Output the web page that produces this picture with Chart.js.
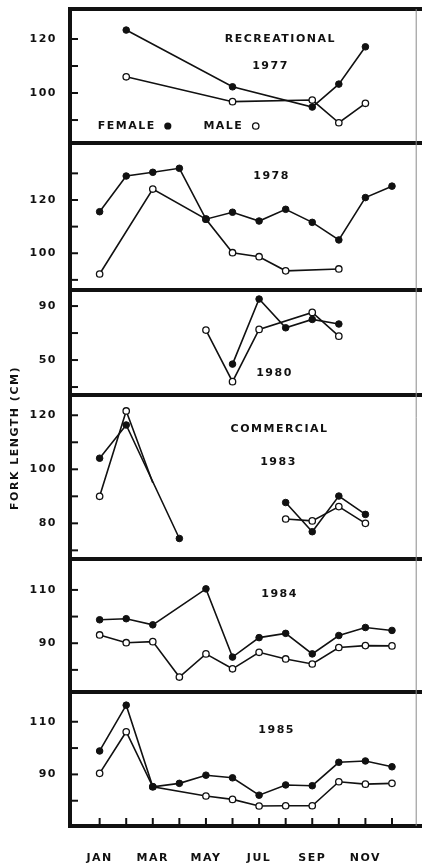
<!DOCTYPE html>
<html>
<head>
<meta charset="utf-8">
<script src="https://cdn.jsdelivr.net/npm/chart.js@4.4.1/dist/chart.umd.min.js"></script>
<style>
  html, body { margin:0; padding:0; background:#fff; }
  #wrap { position:relative; width:422px; height:867px; }
</style>
</head>
<body>
<div id="wrap"><canvas id="fork_chart" width="422" height="867"></canvas></div>
<script>
// months on the shared x axis
const months = ['JAN','FEB','MAR','APR','MAY','JUN','JUL','AUG','SEP','OCT','NOV','DEC'];

// fork length (cm), one value per month, null = no sample
const female1977 = [null,123.3,null,null,null,102.3,null,null,94.8,103.3,117.1,null];
const male1977   = [null,106.0,null,null,null,96.8,null,null,97.4,89.0,96.2,null];

const female1978 = [115.6,129.0,130.4,131.9,112.8,115.4,112.1,116.5,111.6,105.0,120.9,125.2];
const male1978   = [92.2,null,124.1,null,112.8,100.2,98.7,93.4,null,94.1,null,null];

const female1980 = [null,null,null,null,null,47.0,95.2,73.9,80.1,76.7,null,null];
const male1980   = [null,null,null,null,72.2,34.0,72.7,null,85.3,67.7,null,null];

const female1983 = [104.1,116.4,null,74.4,null,null,null,87.7,76.9,90.1,83.3,null];
const male1983   = [90.0,121.6,95.0,null,null,null,null,81.6,80.9,86.2,80.0,null];

const female1984 = [98.8,99.2,96.9,null,110.4,84.8,92.1,93.7,86.0,92.9,95.9,94.8];
const male1984   = [93.1,90.2,90.6,77.3,86.0,80.4,86.6,84.1,82.2,88.4,89.1,89.0];

const female1985 = [98.9,116.3,85.3,86.6,89.7,88.7,82.1,86.0,85.7,94.6,95.1,92.9];
const male1985   = [90.4,106.2,85.3,null,81.8,80.5,78.0,78.1,78.1,87.2,86.3,86.6];

const femaleSeries = [female1977, female1978, female1980, female1983, female1984, female1985];
const maleSeries   = [male1977, male1978, male1980, male1983, male1984, male1985];

// y axis of each panel
const yRanges     = [[81.5,131.1],[86.2,141.4],[24.1,101.9],[66.8,127.5],[71.7,121.6],[70.4,121.3]];
const yTickMarks  = [[90,100,110,120],[90,100,110,120,130],[30,50,70,90],[70,80,90,100,110,120],[80,90,100,110],[80,90,100,110]];
const yTickLabels = [[100,120],[100,120],[50,90],[80,100,120],[90,110],[90,110]];

// panel heights in px (top to bottom)
const panelHeights = [134,147,105,164,133,134];

const FONT = 'bold 11px "DejaVu Sans"';
const INK = '#111';

function toPoints(arr) {
    let pts = [];
    arr.forEach(function(v, i){
        if (v !== null) pts.push({x:i+1, y:v});
    });
    return pts;
}

// in-panel texts, placed in data units of each panel
const notes = [
    {panel:0, text:'RECREATIONAL', x:7.80, y:120},
    {panel:0, text:'1977', x:7.43, y:110},
    {panel:1, text:'1978', x:7.47, y:129},
    {panel:2, text:'1980', x:7.58, y:40},
    {panel:3, text:'COMMERCIAL', x:7.77, y:115},
    {panel:3, text:'1983', x:7.73, y:102.7},
    {panel:4, text:'1984', x:7.77, y:108.5},
    {panel:5, text:'1985', x:7.66, y:106.9}
];

let datasets = [];
femaleSeries.forEach(function(arr, k){
    datasets.push({
        label:'Female', data:toPoints(arr), yAxisID:'y'+k,
        borderColor:INK, borderWidth:1.6, backgroundColor:INK,
        pointRadius:3.3, pointBorderWidth:1, pointBackgroundColor:INK, pointBorderColor:INK,
        spanGaps: k === 3 ? 3 : true
    });
});
maleSeries.forEach(function(arr, k){
    datasets.push({
        label:'Male', data:toPoints(arr), yAxisID:'y'+k,
        borderColor:INK, borderWidth:1.6, backgroundColor:'#fff',
        pointRadius: function(c){ return (k === 3 && c.raw && c.raw.x === 3) ? 0 : 3.2; },
        pointBorderWidth:1.3, pointBackgroundColor:'#fff', pointBorderColor:INK,
        spanGaps: k === 3 ? 3 : true
    });
});

function noPad(s) {
    s.paddingTop = 0; s.paddingBottom = 0; s.paddingLeft = 0; s.paddingRight = 0;
}

let scales = {
    x: {
        type:'linear', position:'bottom', min:-0.115, max:12.93,
        grid:{display:false}, border:{display:false},
        afterBuildTicks: function(s){ s.ticks = months.map(function(m, i){ return {value:i+1}; }); },
        afterFit: function(s){ s.height = 41; noPad(s); },
        ticks:{
            autoSkip:false, maxRotation:0, padding:18, color:INK,
            font:{family:'DejaVu Sans', size:11, weight:'bold'},
            callback: function(v){ return (v % 2 === 1) ? months[v-1] : ''; }
        }
    }
};
yRanges.forEach(function(r, k){
    scales['y'+k] = {
        type:'linear', position:'left', stack:'panels', stackWeight:panelHeights[k], weight:6-k,
        min:r[0], max:r[1],
        grid:{display:false}, border:{display:false},
        afterBuildTicks: function(s){ s.ticks = yTickMarks[k].map(function(v){ return {value:v}; }); },
        afterFit: function(s){ s.width = 70; noPad(s); },
        ticks:{
            autoSkip:false, padding:5, color:INK,
            font:{family:'DejaVu Sans', size:11, weight:'bold'},
            callback: function(v){ return yTickLabels[k].includes(v) ? String(v) : ''; }
        }
    };
});

const spacing = {
    id:'spacing',
    beforeDraw: function(chart){ chart.ctx.letterSpacing = '1.5px'; }
};

const panelFrames = {
    id:'panelFrames',
    afterDatasetsDraw: function(chart){
        const ctx = chart.ctx, area = chart.chartArea;
        ctx.save();
        ctx.strokeStyle = INK;
        ctx.fillStyle = INK;

        // inward y ticks and panel separators
        yRanges.forEach(function(r, k){
            const s = chart.scales['y'+k];
            ctx.lineWidth = 2;
            s.ticks.forEach(function(t){
                const y = s.getPixelForValue(t.value);
                ctx.beginPath(); ctx.moveTo(area.left, y); ctx.lineTo(area.left + 8, y); ctx.stroke();
            });
            ctx.lineWidth = 4;
            ctx.beginPath(); ctx.moveTo(area.left - 2, s.top); ctx.lineTo(chart.width, s.top); ctx.stroke();
        });
        ctx.lineWidth = 4;
        ctx.beginPath(); ctx.moveTo(area.left - 2, area.bottom); ctx.lineTo(chart.width, area.bottom); ctx.stroke();
        ctx.beginPath(); ctx.moveTo(area.left, area.top - 2); ctx.lineTo(area.left, area.bottom + 2); ctx.stroke();

        // inward month ticks
        const xs = chart.scales.x;
        ctx.lineWidth = 2;
        months.forEach(function(m, i){
            const x = xs.getPixelForValue(i+1);
            ctx.beginPath(); ctx.moveTo(x, area.bottom); ctx.lineTo(x, area.bottom - 8); ctx.stroke();
        });

        // thin right edge
        ctx.strokeStyle = '#8a8a8a';
        ctx.lineWidth = 1;
        ctx.beginPath(); ctx.moveTo(area.right - 0.5, area.top); ctx.lineTo(area.right - 0.5, area.bottom); ctx.stroke();

        // panel texts
        ctx.font = FONT;
        ctx.letterSpacing = '1.5px';
        ctx.textBaseline = 'middle';
        ctx.textAlign = 'center';
        notes.forEach(function(n){
            const s = chart.scales['y'+n.panel];
            ctx.fillText(n.text, xs.getPixelForValue(n.x), s.getPixelForValue(n.y));
        });

        // legend inside first panel
        const s0 = chart.scales.y0;
        const ly = s0.getPixelForValue(87.8);
        ctx.textAlign = 'left';
        ctx.fillText('FEMALE', xs.getPixelForValue(0.926), ly);
        ctx.beginPath(); ctx.arc(xs.getPixelForValue(3.565), ly, 3.6, 0, Math.PI*2); ctx.fill();
        ctx.fillText('MALE', xs.getPixelForValue(4.904), ly);
        ctx.strokeStyle = INK;
        ctx.lineWidth = 1.3;
        ctx.beginPath(); ctx.arc(xs.getPixelForValue(6.874), ly, 3.2, 0, Math.PI*2); ctx.stroke();

        // y axis title
        ctx.translate(15, 438);
        ctx.rotate(-Math.PI/2);
        ctx.textAlign = 'center';
        ctx.fillText('FORK LENGTH (CM)', 0, 0);
        ctx.restore();
    }
};

let forkChart = new Chart(document.getElementById('fork_chart'), {
    type:'line',
    data:{ datasets:datasets },
    options:{
        responsive:false,
        animation:false,
        layout:{ padding:{top:9, right:1, left:0, bottom:0} },
        elements:{ line:{tension:0} },
        plugins:{ legend:{display:false}, tooltip:{enabled:false} },
        scales:scales
    },
    plugins:[spacing, panelFrames]
});
</script>
</body>
</html>
